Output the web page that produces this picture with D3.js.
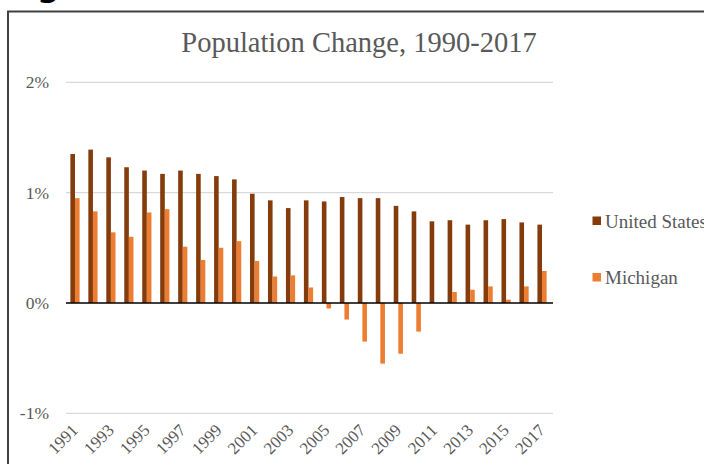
<!DOCTYPE html>
<html>
<head>
<meta charset="utf-8">
<script src="https://cdn.jsdelivr.net/npm/d3@7"></script>
<style>
  html, body { margin: 0; padding: 0; background: #fff; }
  svg { display: block; }
  text { font-family: "Liberation Serif", "Times New Roman", serif; }
</style>
</head>
<body>
<svg id="chart" width="704" height="464"></svg>
<script>
// Annual population change (%), 1991-2017
const years = d3.range(1991, 2018);
const unitedStates = [1.35, 1.39, 1.32, 1.23, 1.20, 1.17, 1.20, 1.17, 1.15, 1.12,
                      0.99, 0.93, 0.86, 0.93, 0.92, 0.96, 0.95, 0.95, 0.88, 0.83,
                      0.74, 0.75, 0.71, 0.75, 0.76, 0.73, 0.71];
const michigan = [0.95, 0.83, 0.64, 0.60, 0.82, 0.85, 0.51, 0.39, 0.50, 0.56,
                  0.38, 0.24, 0.25, 0.14, -0.05, -0.15, -0.35, -0.55, -0.46, -0.26,
                  0.00, 0.10, 0.12, 0.15, 0.03, 0.15, 0.29];
const seriesNames = ["United States", "Michigan"];
const seriesColors = ["#843C0C", "#ED7D31"];
const yTicks = [-1, 0, 1, 2];
const xTickYears = years.filter(y => y % 2 === 1);
const title = "Population Change, 1990-2017";

const svg = d3.select("#chart");

// heading fragment above the chart frame
svg.append("text")
  .attr("x", 37).attr("y", -4)
  .attr("font-weight", "bold")
  .attr("font-size", 32)
  .style("font-family", "'DejaVu Sans', sans-serif")
  .attr("fill", "#000")
  .text("g");

// chart frame (continues past the right and bottom edges)
svg.append("path")
  .attr("d", "M8,470 L8,11.5 L710,11.5")
  .attr("fill", "none")
  .attr("stroke", "#404040")
  .attr("stroke-width", 2);

const plot = { left: 66, right: 551, top: 82.3, bottom: 413.3 };

const x = d3.scaleBand().domain(years).range([plot.left, plot.right]).padding(0);
const y = d3.scaleLinear().domain([-1, 2]).range([plot.bottom, plot.top]);

const inner = d3.scaleBand().domain(seriesNames).range([-4.6, 4.6]).padding(0);

// gridlines
svg.append("g").selectAll("line")
  .data(yTicks.filter(t => t !== 0))
  .join("line")
  .attr("x1", plot.left).attr("x2", plot.right + 2)
  .attr("y1", d => y(d)).attr("y2", d => y(d))
  .attr("stroke", "#D9D9D9").attr("stroke-width", 1.3);

// y axis labels
const yAxis = d3.axisLeft(y).tickValues(yTicks).tickSize(0).tickPadding(0)
  .tickFormat(d => d + "%");
svg.append("g")
  .attr("transform", `translate(${49},0)`)
  .call(yAxis)
  .call(g => g.select(".domain").remove())
  .call(g => g.selectAll("text")
    .attr("font-family", "Liberation Serif, serif")
    .attr("font-size", 17.5)
    .attr("fill", "#595959"));

// bars
const seriesData = [unitedStates, michigan];
seriesNames.forEach((name, si) => {
  svg.append("g").selectAll("rect")
    .data(years.map((yr, i) => ({ yr, v: seriesData[si][i] })))
    .join("rect")
    .attr("x", d => x(d.yr) + x.bandwidth() / 2 + inner(name))
    .attr("width", inner.bandwidth())
    .attr("y", d => y(Math.max(0, d.v)))
    .attr("height", d => Math.abs(y(d.v) - y(0)))
    .attr("fill", seriesColors[si]);
});

// zero line
svg.append("line")
  .attr("x1", plot.left).attr("x2", plot.right + 2)
  .attr("y1", y(0)).attr("y2", y(0))
  .attr("stroke", "#000").attr("stroke-width", 1.6);

// x axis labels (every other year, rotated)
const xAxis = d3.axisBottom(x).tickValues(xTickYears).tickSize(0).tickPadding(0);
svg.append("g")
  .attr("transform", `translate(0,${plot.bottom})`)
  .call(xAxis)
  .call(g => g.select(".domain").remove())
  .call(g => g.selectAll("text")
    .attr("font-family", "Liberation Serif, serif")
    .attr("font-size", 17)
    .attr("fill", "#595959")
    .attr("dy", null)
    .attr("y", 0)
    .attr("text-anchor", "end")
    .attr("transform", "translate(4,18) rotate(-45)"));

// title
svg.append("text")
  .attr("x", 359).attr("y", 52)
  .attr("text-anchor", "middle")
  .attr("font-size", 28.5)
  .attr("fill", "#595959")
  .text(title);

// legend
const legend = svg.append("g");
const legendY = [221, 277.5];
seriesNames.forEach((name, i) => {
  legend.append("rect")
    .attr("x", 592.5).attr("y", legendY[i] - 4.5)
    .attr("width", 8.5).attr("height", 8.5)
    .attr("fill", seriesColors[i]);
  legend.append("text")
    .attr("x", 605).attr("y", legendY[i] + 6.5)
    .attr("font-size", 19)
    .attr("fill", "#595959")
    .text(name);
});
</script>
</body>
</html>
